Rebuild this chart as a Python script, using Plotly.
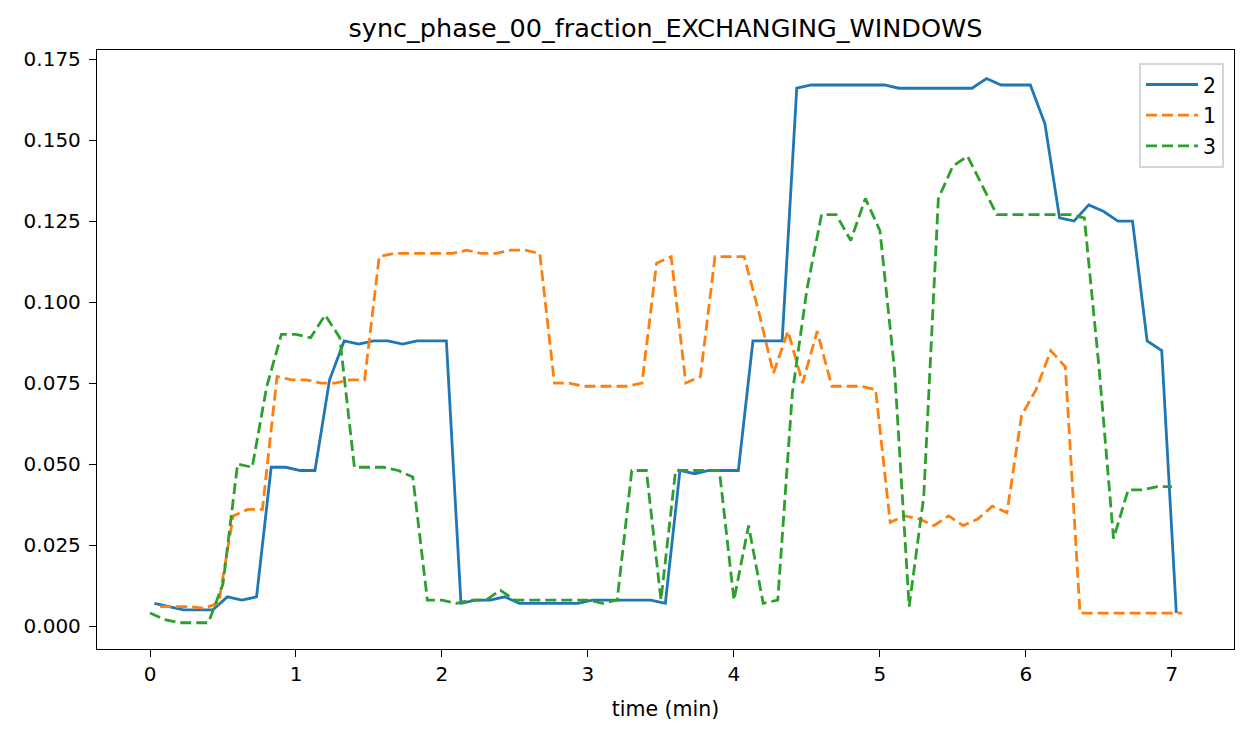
import plotly.graph_objects as go

# ---- data ----
time_2 = [0.03, 0.13, 0.23, 0.33, 0.43, 0.53, 0.63, 0.73, 0.83, 0.93,
          1.03, 1.13, 1.23, 1.33, 1.43, 1.53, 1.63, 1.73, 1.83, 1.93,
          2.03, 2.13, 2.23, 2.33, 2.43, 2.53, 2.63, 2.73, 2.83, 2.93,
          3.03, 3.13, 3.23, 3.33, 3.43, 3.53, 3.63, 3.73, 3.83, 3.93,
          4.03, 4.13, 4.23, 4.33, 4.43, 4.53, 4.63, 4.73, 4.83, 4.93,
          5.03, 5.13, 5.23, 5.33, 5.43, 5.53, 5.63, 5.73, 5.83, 5.93,
          6.03, 6.13, 6.23, 6.33, 6.43, 6.53, 6.63, 6.73, 6.83, 6.93, 7.03]
values_2 = [0.007, 0.006, 0.005, 0.005, 0.005, 0.009, 0.008, 0.009, 0.049, 0.049,
            0.048, 0.048, 0.076, 0.088, 0.087, 0.088, 0.088, 0.087, 0.088, 0.088,
            0.088, 0.007, 0.008, 0.008, 0.009, 0.007, 0.007, 0.007, 0.007, 0.007,
            0.008, 0.008, 0.008, 0.008, 0.008, 0.007, 0.048, 0.047, 0.048, 0.048,
            0.048, 0.088, 0.088, 0.088, 0.166, 0.167, 0.167, 0.167, 0.167, 0.167,
            0.167, 0.166, 0.166, 0.166, 0.166, 0.166, 0.166, 0.169, 0.167, 0.167,
            0.167, 0.155, 0.126, 0.125, 0.130, 0.128, 0.125, 0.125, 0.088, 0.085, 0.004]

time_1 = [0.07, 0.17, 0.27, 0.37, 0.47, 0.57, 0.67, 0.77, 0.87, 0.97,
          1.07, 1.17, 1.27, 1.37, 1.47, 1.57, 1.67, 1.77, 1.87, 1.97,
          2.07, 2.17, 2.27, 2.37, 2.47, 2.57, 2.67, 2.77, 2.87, 2.97,
          3.07, 3.17, 3.27, 3.37, 3.47, 3.57, 3.67, 3.77, 3.87, 3.97,
          4.07, 4.17, 4.27, 4.37, 4.47, 4.57, 4.67, 4.77, 4.87, 4.97,
          5.07, 5.17, 5.27, 5.37, 5.47, 5.57, 5.67, 5.77, 5.87, 5.97,
          6.07, 6.17, 6.27, 6.37, 6.47, 6.57, 6.67, 6.77, 6.87, 6.97, 7.07]
values_1 = [0.006, 0.006, 0.006, 0.0055, 0.007, 0.034, 0.036, 0.036, 0.077, 0.076,
            0.076, 0.075, 0.075, 0.076, 0.076, 0.114, 0.115, 0.115, 0.115, 0.115,
            0.115, 0.116, 0.115, 0.115, 0.116, 0.116, 0.115, 0.075, 0.075, 0.074,
            0.074, 0.074, 0.074, 0.075, 0.112, 0.114, 0.075, 0.077, 0.114, 0.114,
            0.114, 0.097, 0.078, 0.091, 0.075, 0.091, 0.074, 0.074, 0.074, 0.073,
            0.032, 0.034, 0.033, 0.031, 0.034, 0.031, 0.033, 0.037, 0.035, 0.065,
            0.073, 0.085, 0.080, 0.004, 0.004, 0.004, 0.004, 0.004, 0.004, 0.004, 0.004]

time_3 = [0.0, 0.1, 0.2, 0.3, 0.4, 0.5, 0.6, 0.7, 0.8, 0.9,
          1.0, 1.1, 1.2, 1.3, 1.4, 1.5, 1.6, 1.7, 1.8, 1.9,
          2.0, 2.1, 2.2, 2.3, 2.4, 2.5, 2.6, 2.7, 2.8, 2.9,
          3.0, 3.1, 3.2, 3.3, 3.4, 3.5, 3.6, 3.7, 3.8, 3.9,
          4.0, 4.1, 4.2, 4.3, 4.4, 4.5, 4.6, 4.7, 4.8, 4.9,
          5.0, 5.1, 5.2, 5.3, 5.4, 5.5, 5.6, 5.7, 5.8, 5.9,
          6.0, 6.1, 6.2, 6.3, 6.4, 6.5, 6.6, 6.7, 6.8, 6.9, 7.0]
values_3 = [0.004, 0.002, 0.001, 0.001, 0.001, 0.013, 0.050, 0.049, 0.074, 0.090,
            0.090, 0.089, 0.096, 0.089, 0.049, 0.049, 0.049, 0.048, 0.046, 0.008,
            0.008, 0.007, 0.008, 0.008, 0.011, 0.008, 0.008, 0.008, 0.008, 0.008,
            0.008, 0.007, 0.008, 0.048, 0.048, 0.008, 0.048, 0.048, 0.048, 0.048,
            0.008, 0.031, 0.007, 0.008, 0.072, 0.104, 0.127, 0.127, 0.119, 0.132,
            0.122, 0.079, 0.006, 0.040, 0.132, 0.142, 0.145, 0.136, 0.127, 0.127,
            0.127, 0.127, 0.127, 0.127, 0.126, 0.080, 0.027, 0.042, 0.042, 0.043, 0.043]

series_names = ["2", "1", "3"]
y_ticks = [0.0, 0.025, 0.05, 0.075, 0.1, 0.125, 0.15, 0.175]
x_ticks = [0, 1, 2, 3, 4, 5, 6, 7]

fig = go.Figure()
fig.add_trace(go.Scatter(x=time_2, y=values_2, mode="lines", name=series_names[0],
                         legendgroup="a",
                         line=dict(color="#1f77b4", width=2.8)))
fig.add_trace(go.Scatter(x=time_1, y=values_1, mode="lines", name=series_names[1],
                         legendgroup="b",
                         line=dict(color="#ff7f0e", width=2.8, dash="11px,5px")))
fig.add_trace(go.Scatter(x=time_3, y=values_3, mode="lines", name=series_names[2],
                         legendgroup="c",
                         line=dict(color="#2ca02c", width=2.8, dash="11px,5px")))

axis_common = dict(showline=True, linecolor="black", linewidth=1.3, mirror=True,
                   ticks="outside", ticklen=7, tickwidth=1.3, tickcolor="black",
                   showgrid=False, zeroline=False, automargin=False,
                   tickfont=dict(size=20, family="DejaVu Sans", color="black"))

# the page body has an 8px margin, so the figure is sized/offset to compensate
FIG_W, FIG_H = 1235, 727

fig.update_layout(
    width=FIG_W, height=FIG_H,
    margin=dict(l=89, r=9, t=42, b=86),
    paper_bgcolor="white", plot_bgcolor="white",
    font=dict(family="DejaVu Sans", size=20, color="black"),
    title=dict(text="sync_phase_00_fraction_EXCHANGING_WINDOWS",
               x=0.5, xref="paper", xanchor="center",
               y=1 - 20 / FIG_H, yref="container", yanchor="middle",
               font=dict(size=25.5, family="DejaVu Sans", color="black")),
    xaxis=dict(range=[-0.363, 7.425], tickvals=x_ticks,
               title=dict(text="time (min)", standoff=16,
                          font=dict(size=20.5, family="DejaVu Sans", color="black")),
               **axis_common),
    yaxis=dict(range=[-0.0071, 0.1778], tickvals=y_ticks, tickformat=".3f",
               ticklabelstandoff=4, **axis_common),
    legend=dict(x=0.9912, y=0.9788, xanchor="right", yanchor="top",
                bgcolor="rgba(255,255,255,0.8)", bordercolor="#d6d6d6",
                borderwidth=2, tracegroupgap=1, itemwidth=52,
                font=dict(size=20.5, family="DejaVu Sans")),
    showlegend=True,
)

fig.write_html("out.html")
